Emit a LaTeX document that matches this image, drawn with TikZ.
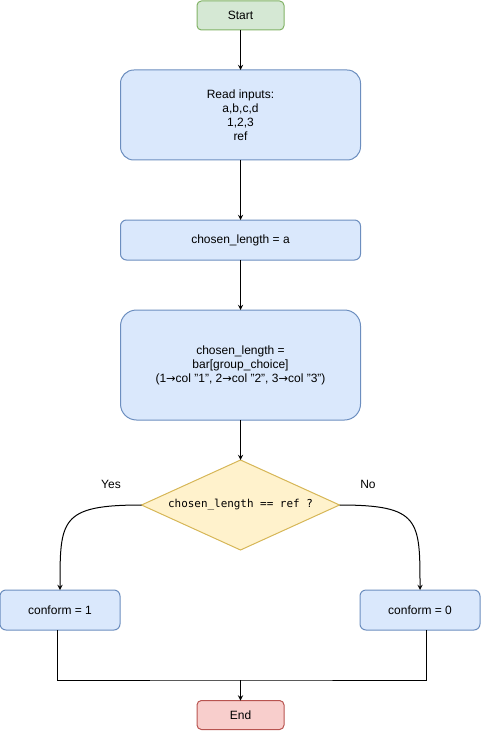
\documentclass[tikz,border=0pt]{standalone}
\usepackage{fontspec}
\setmainfont{Liberation Sans}
\setmonofont{DejaVu Sans Mono}
\newfontfamily\arrowfont{DejaVu Sans}
\usepackage{tikz}
\usetikzlibrary{arrows,shapes,positioning}
\usepackage{xcolor}
\definecolor{dfgreen}{HTML}{D5E8D4}
\definecolor{dfgreenline}{HTML}{82B366}
\definecolor{dfblue}{HTML}{DAE8FC}
\definecolor{dfblueline}{HTML}{6C8EBF}
\definecolor{dfyellow}{HTML}{FFF2CC}
\definecolor{dfyellowline}{HTML}{D6B656}
\definecolor{dfred}{HTML}{F8CECC}
\definecolor{dfredline}{HTML}{B85450}
\newcommand{\toarrow}{{\arrowfont\fontsize{8.5}{10}\selectfont →}}
\tikzstyle{arrow} = [line width=0.75pt,->,>=stealth,color=black]
\tikzstyle{link} = [line width=0.75pt,color=black]
\tikzstyle{terminal} = [rectangle, rounded corners=3.3pt, minimum width=65.25pt, minimum height=21.75pt, outer sep=0pt, text centered, line width=0.75pt, font=\fontsize{9}{10.5}\selectfont]
\tikzstyle{process} = [rectangle, minimum width=180pt, outer sep=0pt, text centered, align=center, draw=dfblueline, fill=dfblue, line width=0.75pt, font=\fontsize{9}{10.5}\selectfont]
\tikzstyle{decision} = [diamond, aspect=2.2, inner sep=0pt, outer sep=0pt, minimum width=148.5pt, minimum height=67.5pt, draw=dfyellowline, fill=dfyellow, line width=0.75pt, font=\ttfamily\fontsize{8.2}{10}\selectfont]

\begin{document}
\begin{tikzpicture}[x=0.75pt, y=-0.75pt]
\useasboundingbox (0,0) rectangle (481,731);
% Main column
\node (start) [terminal, draw=dfgreenline, fill=dfgreen] at (240.5,15.5) {Start};
\node (read) [process, below=30pt of start, minimum height=67.5pt, rounded corners=10pt] {Read inputs:\\a,b,c,d\\1,2,3\\ref};
\node (chosen) [process, below=45pt of read, minimum height=30pt, rounded corners=4.5pt] {chosen\_length = a};
\node (bar) [process, below=37.5pt of chosen, minimum height=82.5pt, rounded corners=12pt] {chosen\_length =\\bar[group\_choice]\\(1\toarrow col "1", 2\toarrow col "2", 3\toarrow col "3")};
\node (check) [decision, below=30pt of bar] {chosen\_length == ref ?};

% Branches
\node (yes) [process, minimum width=90pt, minimum height=30pt, rounded corners=4.5pt] at (60,610) {conform = 1};
\node (no) [process, minimum width=90pt, minimum height=30pt, rounded corners=4.5pt] at (420,610) {conform = 0};
\node (finish) [terminal, draw=dfredline, fill=dfred] at (240.5,715) {End};
\coordinate (join) at (240.5,680);

\draw[arrow] (start) -- (read);
\draw[arrow] (read) -- (chosen);
\draw[arrow] (chosen) -- (bar);
\draw[arrow] (bar) -- (check);
\draw[arrow] (check.west) .. controls (60,505) and (60,520) .. (yes.north);
\draw[arrow] (check.east) .. controls (420,505) and (420,520) .. (no.north);
\draw[link] ([xshift=-2.25pt]yes.south) |- (join) -| ([xshift=4.5pt]no.south);
\draw[arrow] (join) -- (finish);

\node at (111,484) {\fontsize{9}{10.5}\selectfont Yes};
\node at (368,484) {\fontsize{9}{10.5}\selectfont No};
\end{tikzpicture}
\end{document}
